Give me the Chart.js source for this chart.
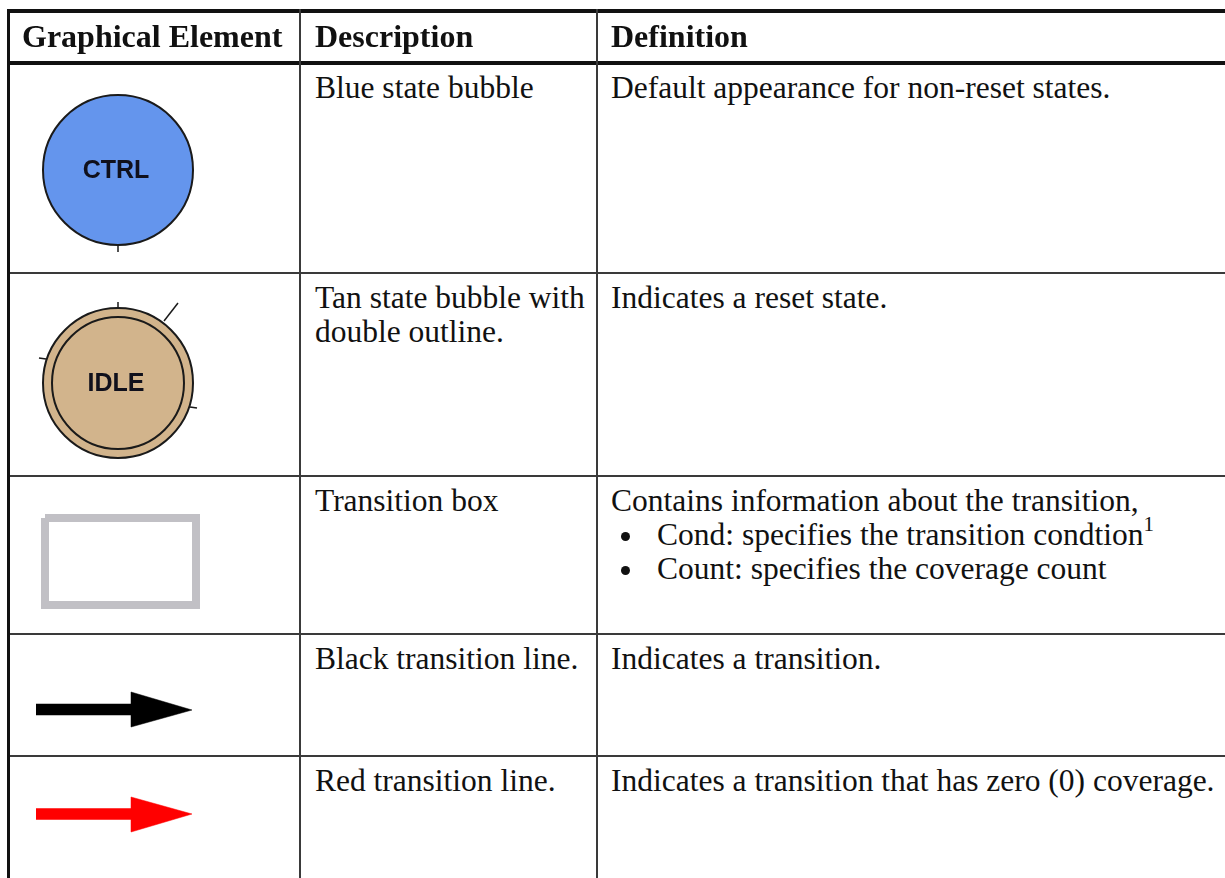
<!DOCTYPE html>
<html>
<head>
<meta charset="utf-8">
<script src="https://cdn.jsdelivr.net/npm/chart.js@4.4.1/dist/chart.umd.min.js"></script>
<style>
  body { margin: 0; background: #fff; width: 1225px; height: 878px; overflow: hidden; position: relative;
         font-family: "Liberation Serif", "Times New Roman", serif; font-size: 31.5px; line-height: 34px; color: #111; }
  .rule { position: absolute; background: #3a3a3a; }
  .thick { background: #111; }
  .cell { position: absolute; white-space: pre; }
  .head { font-weight: bold; font-size: 32px; }
  .item { padding-left: 10px; }
  .dot { display: inline-block; width: 9px; height: 9px; border-radius: 50%; background: #111;
         margin-right: 27px; position: relative; top: -4px; }
  sup { font-size: 21px; line-height: 0; position: relative; top: -3px; vertical-align: super; }
  #glyphs { position: absolute; left: 0; top: 0; }
</style>
</head>
<body>
<canvas id="glyphs" width="300" height="878"></canvas>
<script>
// table content
const headers = ["Graphical Element", "Description", "Definition"];
const descriptions = [
  "Blue state bubble",
  "Tan state bubble with\ndouble outline.",
  "Transition box",
  "Black transition line.",
  "Red transition line."
];
const definitions = [
  "Default appearance for non-reset states.",
  "Indicates a reset state.",
  "Contains information about the transition,",
  "Indicates a transition.",
  "Indicates a transition that has zero (0) coverage."
];
const boxFields = ["Cond: specifies the transition condtion", "Count: specifies the coverage count"];
const boxFootnotes = ["1", ""];

// graphical elements (drawn in column-local pixel units)
const stateNames = ["CTRL", "IDLE"];
const stateFills = ["#6495ed", "#d2b48c"];
const statePoints = [{ x: 118, y: 170, r: 75 }, { x: 118, y: 383, r: 75 }];
const resetRing = [{ x: 118, y: 383, r: 66 }];
const stubs = [
  [{ x: 118, y: 245 }, { x: 118, y: 252 }],
  [{ x: 118, y: 302 }, { x: 118, y: 309 }],
  [{ x: 164, y: 321 }, { x: 178, y: 303 }],
  [{ x: 39, y: 358 }, { x: 46, y: 359 }],
  [{ x: 190, y: 407 }, { x: 197, y: 408 }]
];
const boxOutline = [{ x: 45, y: 518 }, { x: 196, y: 518 }, { x: 196, y: 605 }, { x: 45, y: 605 }, { x: 45, y: 518 }];
const arrowColors = ["#000000", "#ff0000"];
const arrowShafts = [
  [{ x: 36, y: 709.5 }, { x: 132, y: 709.5 }],
  [{ x: 36, y: 814 }, { x: 132, y: 814 }]
];
const arrowHeads = [
  [{ x: 131, y: 692 }, { x: 192, y: 710 }, { x: 131, y: 727 }, { x: 131, y: 692 }],
  [{ x: 131, y: 797 }, { x: 192, y: 814 }, { x: 131, y: 832 }, { x: 131, y: 797 }]
];

// table layout
const colLeft = [22, 315, 611];
const rowTops = [63, 273, 476, 634, 756];

function rule(x, y, w, h, cls) {
  const d = document.createElement("div");
  d.className = "rule" + (cls ? " " + cls : "");
  Object.assign(d.style, { left: x + "px", top: y + "px", width: w + "px", height: h + "px" });
  document.body.appendChild(d);
}
function cell(x, y, html, cls) {
  const d = document.createElement("div");
  d.className = "cell" + (cls ? " " + cls : "");
  d.style.left = x + "px";
  d.style.top = y + "px";
  d.innerHTML = html;
  document.body.appendChild(d);
  return d;
}

rule(7, 9, 1230, 4, "thick");
rule(7, 61, 1230, 4, "thick");
rule(7, 9, 3, 880, "thick");
rule(299, 9, 2, 880);
rule(596, 9, 2, 880);
rowTops.slice(1).forEach(y => rule(10, y - 1, 1230, 2));

headers.forEach((h, i) => cell(colLeft[i], 19, h, "head"));
descriptions.forEach((t, i) => cell(colLeft[1], rowTops[i] + 8, t));
definitions.forEach((t, i) => {
  const c = cell(colLeft[2], rowTops[i] + 8, t);
  if (i === 2) {
    boxFields.forEach((f, j) => {
      const line = document.createElement("div");
      line.className = "item";
      line.innerHTML = '<span class="dot"></span>' + f + (boxFootnotes[j] ? "<sup>" + boxFootnotes[j] + "</sup>" : "");
      c.appendChild(line);
    });
  }
});

// state name labels inside bubbles
const stateLabels = {
  id: "stateLabels",
  afterDatasetsDraw(chart) {
    const ctx = chart.ctx;
    ctx.save();
    ctx.font = 'bold 25px "Liberation Sans", Arial, sans-serif';
    ctx.fillStyle = "#10101c";
    ctx.textAlign = "center";
    ctx.textBaseline = "middle";
    stateNames.forEach((name, i) => {
      const el = chart.getDatasetMeta(i).data[0];
      ctx.fillText(name, el.x - 2, el.y + 1);
    });
    ctx.restore();
  }
};

// lower order is drawn on top
const datasets = [];
statePoints.forEach((p, i) => datasets.push({
  type: "bubble", data: [p], backgroundColor: stateFills[i], borderColor: "#1a1a1a", borderWidth: 2, clip: false, order: 2
}));
datasets.push({ type: "bubble", data: resetRing, backgroundColor: "rgba(0,0,0,0)", borderColor: "#1a1a1a", borderWidth: 2, clip: false, order: 1 });
stubs.forEach(s => datasets.push({ data: s, showLine: true, borderColor: "#1a1a1a", borderWidth: 1.5, pointRadius: 0, clip: false, order: 3 }));
datasets.push({ data: boxOutline, showLine: true, borderColor: "#c1c0c5", borderWidth: 8, borderJoinStyle: "miter", pointRadius: 0, clip: false });
arrowShafts.forEach((s, i) => datasets.push({
  data: s, showLine: true, borderColor: arrowColors[i], borderWidth: 11.5, borderCapStyle: "butt", pointRadius: 0, clip: false
}));
arrowHeads.forEach((h, i) => datasets.push({
  data: h, showLine: true, fill: "shape", backgroundColor: arrowColors[i], borderColor: arrowColors[i], borderWidth: 0.5, pointRadius: 0, clip: false
}));

new Chart(document.getElementById("glyphs"), {
  type: "scatter",
  data: { datasets: datasets },
  options: {
    responsive: false,
    animation: false,
    events: [],
    layout: { padding: 0, autoPadding: false },
    plugins: { legend: { display: false }, tooltip: { enabled: false } },
    scales: {
      x: { type: "linear", min: 0, max: 300, display: false },
      y: { type: "linear", min: 0, max: 878, reverse: true, display: false }
    }
  },
  plugins: [stateLabels]
});
</script>
</body>
</html>
